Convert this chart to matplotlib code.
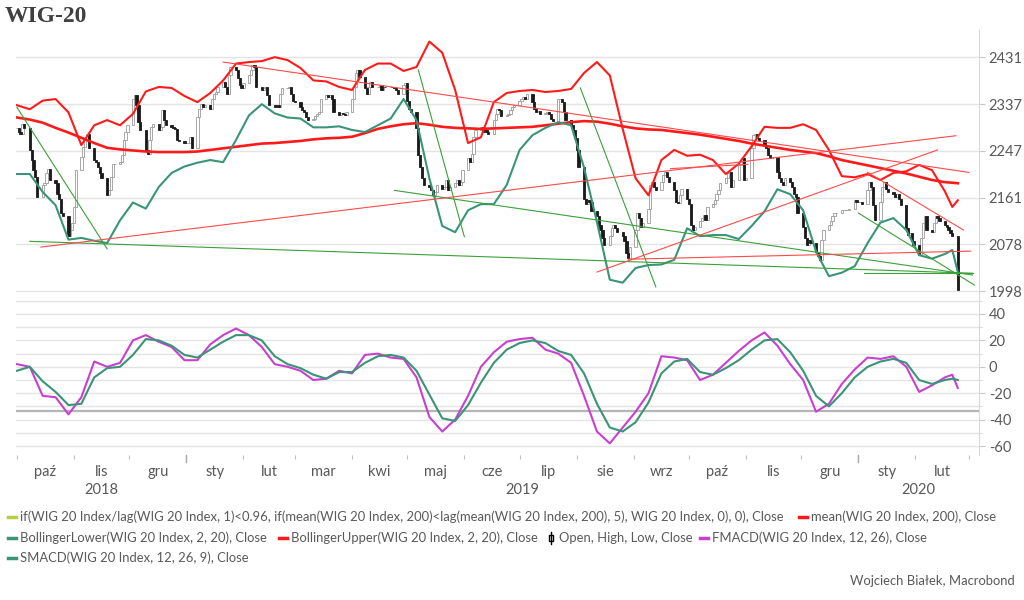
import numpy as np
import pandas as pd
import matplotlib
matplotlib.use('Agg')
import matplotlib.pyplot as plt
import matplotlib.ticker as mticker
import matplotlib.transforms as mtransforms
from matplotlib.lines import Line2D
from matplotlib.patches import Rectangle

plt.rcParams['font.family'] = ['Lato', 'DejaVu Sans']
plt.rcParams['axes.unicode_minus'] = False

# WIG 20 daily closes, one list per month (trading days)
close_by_month = {
    '2018-10': [2290, 2284, 2280, 2299, 2290, 2249, 2230, 2211, 2199, 2162, 2184, 2187,
                2205, 2214, 2193, 2187, 2168, 2159, 2133, 2127, 2092, 2103, 2115],
    '2018-11': [2144, 2211, 2236, 2255, 2268, 2280, 2252, 2230, 2227, 2217, 2205, 2196,
                2165, 2174, 2199, 2223, 2223, 2227, 2239, 2268, 2284, 2296],
    '2018-12': [2348, 2355, 2335, 2303, 2287, 2249, 2242, 2268, 2293, 2299, 2287, 2293,
                2325, 2306, 2296, 2293, 2290, 2288, 2268, 2265, 2262],
    '2019-01': [2262, 2262, 2274, 2252, 2312, 2328, 2338, 2331, 2335, 2328, 2348, 2358,
                2361, 2371, 2381, 2371, 2358, 2395, 2411, 2405, 2388, 2374, 2368],
    '2019-02': [2378, 2395, 2405, 2415, 2411, 2371, 2364, 2368, 2371, 2355, 2335, 2331,
                2335, 2331, 2358, 2368, 2368, 2371, 2358, 2344],
    '2019-03': [2341, 2331, 2326, 2322, 2312, 2306, 2309, 2313, 2317, 2322, 2348, 2355,
                2351, 2355, 2348, 2322, 2315, 2320, 2318, 2315, 2322],
    '2019-04': [2348, 2371, 2398, 2405, 2391, 2368, 2358, 2371, 2381, 2371, 2371, 2374,
                2364, 2371, 2370, 2371, 2370, 2368, 2364, 2358, 2374, 2378],
    '2019-05': [2344, 2328, 2322, 2290, 2239, 2217, 2196, 2184, 2180, 2174, 2165, 2171,
                2184, 2177, 2180, 2193, 2174, 2180, 2187, 2193, 2184, 2190, 2211],
    '2019-06': [2233, 2227, 2242, 2274, 2287, 2293, 2284, 2287, 2284, 2280, 2306, 2318,
                2328, 2325, 2313, 2315, 2318, 2326, 2331, 2335],
    '2019-07': [2344, 2348, 2351, 2348, 2358, 2341, 2328, 2322, 2324, 2317, 2320, 2322,
                2318, 2309, 2304, 2348, 2348, 2341, 2322, 2306, 2296, 2287, 2271],
    '2019-08': [2249, 2217, 2159, 2150, 2156, 2153, 2136, 2127, 2112, 2103, 2089, 2077,
                2092, 2106, 2112, 2106, 2100, 2092, 2083, 2063, 2054, 2074],
    '2019-09': [2103, 2133, 2124, 2109, 2115, 2141, 2184, 2190, 2180, 2174, 2190, 2202,
                2208, 2199, 2190, 2174, 2153, 2151, 2165, 2177, 2159],
    '2019-10': [2150, 2112, 2103, 2109, 2118, 2124, 2130, 2121, 2144, 2150, 2156, 2168,
                2174, 2187, 2196, 2205, 2208, 2180, 2193, 2220, 2227, 2233, 2193],
    '2019-11': [2196, 2252, 2277, 2279, 2271, 2268, 2258, 2252, 2239, 2233, 2236, 2208,
                2196, 2190, 2184, 2196, 2190, 2180, 2168, 2162, 2133],
    '2019-12': [2109, 2089, 2077, 2086, 2080, 2065, 2057, 2051, 2086, 2103, 2112, 2118,
                2127, 2133, 2133, 2138, 2138, 2138, 2138, 2141, 2156, 2153],
    '2020-01': [2153, 2153, 2150, 2174, 2190, 2180, 2147, 2121, 2153, 2180, 2190, 2177,
                2171, 2168, 2162, 2168, 2159, 2147, 2106, 2094, 2097, 2083, 2077],
    '2020-02': [2060, 2089, 2115, 2127, 2103, 2100, 2115, 2127, 2124, 2118, 2112, 2109,
                2103, 2097, 2092, 2000],
}

# weekly samples of the indicator lines
ind_dates = list(pd.date_range('2018-10-01', '2020-02-17', freq='7D').strftime('%Y-%m-%d')) \
    + ['2020-02-21', '2020-02-24']
mean200 = [2311, 2307, 2301, 2291, 2282, 2272, 2262, 2253, 2250, 2248,
           2246, 2245, 2245, 2245, 2246, 2249, 2252, 2255, 2258, 2261,
           2262, 2264, 2266, 2269, 2271, 2272, 2274, 2281, 2289, 2294,
           2298, 2300, 2297, 2293, 2291, 2290, 2289, 2290, 2291, 2292,
           2293, 2296, 2299, 2302, 2304, 2303, 2299, 2294, 2290, 2288,
           2287, 2284, 2281, 2278, 2274, 2270, 2266, 2261, 2257, 2253,
           2249, 2246, 2243, 2237, 2230, 2225, 2220, 2215, 2210, 2205,
           2199, 2193, 2189, 2188, 2187]
boll_upper = [2335, 2327, 2344, 2347, 2321, 2258, 2296, 2306, 2296, 2318,
              2362, 2371, 2369, 2353, 2341, 2359, 2384, 2418, 2421, 2423,
              2431, 2425, 2409, 2384, 2382, 2371, 2365, 2405, 2418, 2418,
              2403, 2411, 2463, 2440, 2365, 2262, 2273, 2341, 2359, 2363,
              2365, 2361, 2363, 2367, 2399, 2421, 2394, 2289, 2196, 2165,
              2230, 2249, 2238, 2240, 2230, 2204, 2223, 2256, 2293, 2291,
              2291, 2298, 2287, 2249, 2200, 2198, 2204, 2193, 2206, 2209,
              2221, 2211, 2172, 2144, 2156]
boll_lower = [2204, 2204, 2171, 2147, 2086, 2089, 2084, 2080, 2120, 2152,
              2141, 2180, 2206, 2218, 2225, 2230, 2226, 2268, 2315, 2337,
              2319, 2311, 2309, 2292, 2292, 2294, 2287, 2283, 2296, 2309,
              2347, 2306, 2196, 2110, 2099, 2138, 2149, 2149, 2184, 2249,
              2277, 2291, 2302, 2296, 2216, 2117, 2017, 2012, 2037, 2042,
              2043, 2051, 2106, 2092, 2094, 2094, 2087, 2110, 2136, 2176,
              2167, 2138, 2065, 2023, 2029, 2040, 2080, 2116, 2124, 2103,
              2059, 2053, 2061, 2068, 2030]
fmacd = [2, 0, -22, -23, -36, -23, 4, 0, 3, 20,
         24, 19, 15, 5, 5, 17, 24, 29, 24, 15,
         2, 0, -3, -10, -9, -3, -5, 9, 10, 7,
         6, -8, -38, -49, -40, -22, 0, 11, 19, 21,
         22, 13, 10, 3, -22, -49, -58, -46, -34, -20,
         8, 7, 5, -10, -6, 3, 12, 20, 26, 16,
         2, -10, -34, -28, -13, -2, 7, 6, 8, 0,
         -19, -14, -8, -6, -16]
smacd = [-3, 0, -11, -19, -29, -28, -8, -1, 0, 9,
         21, 20, 16, 9, 7, 13, 19, 24, 24, 20,
         8, 2, -1, -6, -9, -4, -4, 3, 8, 9,
         7, -3, -21, -39, -41, -29, -12, 3, 13, 18,
         20, 18, 12, 9, -5, -28, -46, -49, -42, -27,
         -5, 4, 6, -4, -6, -1, 5, 13, 20, 21,
         11, -3, -22, -30, -20, -8, 0, 4, 6, 3,
         -10, -13, -10, -9, -10]

# hand-drawn trend lines: start date, start value, end date, end value
green_trends = [
    ('2018-10-01', 2331, '2018-11-19', 2070),
    ('2018-10-08', 2083, '2020-03-03', 2028),
    ('2019-05-07', 2405, '2019-06-01', 2091),
    ('2019-04-24', 2174, '2020-03-03', 2025),
    ('2019-08-03', 2369, '2019-09-13', 2005),
    ('2020-01-01', 2133, '2020-03-04', 2008),
    ('2020-01-04', 2028, '2020-03-03', 2028),
]
red_trends = [
    ('2019-01-21', 2421, '2020-03-01', 2207),
    ('2018-10-14', 2073, '2020-02-23', 2276),
    ('2019-09-21', 2214, '2019-11-02', 2222),
    ('2019-08-12', 2030, '2020-02-13', 2249),
    ('2019-08-29', 2052, '2020-03-02', 2066),
    ('2020-01-06', 2207, '2020-02-27', 2103),
]

price_ticks = [1998, 2078, 2161, 2247, 2337, 2431]
macd_ticks = [-60, -40, -20, 0, 20, 40]
macd_minor = [-50, -30, -10, 10, 30, 50]
macd_threshold = -33.5
month_names = ['sty', 'lut', 'mar', 'kwi', 'maj', 'cze',
               'lip', 'sie', 'wrz', 'paź', 'lis', 'gru']

RED = '#ff1a1a'
TEAL = '#3a9478'
MAGENTA = '#c93fd0'
GRID = '#e4e4e4'
TXT = '#595959'

# candles
dates, closes = [], []
for m, vals in close_by_month.items():
    dates.extend(pd.bdate_range(m + '-01', periods=len(vals)))
    closes.extend(vals)
dates = pd.DatetimeIndex(dates)
closes = np.array(closes, dtype=float)
opens = np.r_[closes[0], closes[:-1]]  # open taken as previous close
up = closes >= opens
idates = pd.to_datetime(ind_dates)

fig = plt.figure(figsize=(10.24, 6.0), dpi=100)
W, H = 1024, 600
ax1 = fig.add_axes([16 / W, 1 - 300 / H, 963 / W, 270 / H])
ax2 = fig.add_axes([16 / W, 1 - 455 / H, 963 / W, 155 / H], sharex=ax1)

x0 = pd.Timestamp('2018-09-30 12:00')
x1 = x0 + pd.Timedelta(days=523)

# --- price panel
ax1.set_yscale('log')
ax1.bar(dates[up], (closes - opens)[up], bottom=opens[up], width=1.25,
        facecolor='white', edgecolor='#9a9a9a', linewidth=0.6, zorder=2)
ax1.bar(dates[~up], (closes - opens)[~up], bottom=opens[~up], width=1.25,
        facecolor='#1a1a1a', edgecolor='#1a1a1a', linewidth=0.6, zorder=2)

for d0, v0, d1, v1 in green_trends:
    ax1.plot(pd.to_datetime([d0, d1]), [v0, v1], color='#3aa03a', lw=0.8, zorder=4)
for d0, v0, d1, v1 in red_trends:
    ax1.plot(pd.to_datetime([d0, d1]), [v0, v1], color='#ff4a4a', lw=0.8, zorder=4)

ax1.plot(idates, mean200, color=RED, lw=1.9, zorder=3)
ax1.plot(idates, boll_upper, color=RED, lw=1.5, zorder=3)
ax1.plot(idates, boll_lower, color=TEAL, lw=1.5, zorder=3)

ax1.set_ylim(1983, 2487)
ax1.yaxis.set_major_locator(mticker.FixedLocator(price_ticks))
ax1.yaxis.set_major_formatter(mticker.FixedFormatter([str(v) for v in price_ticks]))
ax1.yaxis.set_minor_locator(mticker.NullLocator())
ax1.yaxis.tick_right()
ax1.tick_params(axis='y', which='major', labelsize=10.5, labelcolor=TXT,
                length=4, color='#c8c8c8', pad=3)
ax1.tick_params(axis='x', which='both', bottom=False, labelbottom=False)
ax1.grid(axis='y', color=GRID, lw=1)
ax1.set_axisbelow(True)
for s in ['top', 'left', 'bottom']:
    ax1.spines[s].set_visible(False)
ax1.spines['right'].set_color('#d9d9d9')
ax1.set_xlim(x0, x1)

# --- MACD panel
ax2.plot(idates, fmacd, color=MAGENTA, lw=1.5, zorder=3)
ax2.plot(idates, smacd, color=TEAL, lw=1.5, zorder=3)
ax2.axhline(macd_threshold, color='#b5b5b5', lw=1.6, zorder=2)
ax2.set_ylim(-66.8, 50.6)
ax2.yaxis.set_major_locator(mticker.FixedLocator(macd_ticks))
ax2.yaxis.set_minor_locator(mticker.FixedLocator(macd_minor))
ax2.yaxis.tick_right()
ax2.tick_params(axis='y', which='major', labelsize=10.5, labelcolor=TXT,
                length=4, color='#c8c8c8', pad=3)
ax2.tick_params(axis='y', which='minor', length=2, color='#d0d0d0')
ax2.grid(axis='y', which='both', color=GRID, lw=1)
ax2.set_axisbelow(True)
for s in ['top', 'left', 'bottom']:
    ax2.spines[s].set_visible(False)
ax2.spines['right'].set_color('#d9d9d9')

month_starts = pd.date_range('2018-10-01', '2020-03-01', freq='MS')
ax2.xaxis.set_major_locator(mticker.FixedLocator(matplotlib.dates.date2num(month_starts)))
ax2.tick_params(axis='x', which='major', length=3, color='#bfbfbf', labelbottom=False)
ax2.set_xlim(x0, x1)

trans = mtransforms.blended_transform_factory(ax2.transData, ax2.transAxes)
for a, b in zip(month_starts[:-1], month_starts[1:]):
    ax2.text(a + (b - a) / 2, -0.11, month_names[a.month - 1], transform=trans,
             ha='center', va='center', fontsize=10.5, color=TXT)
for yr in [2018, 2019, 2020]:
    a = max(pd.Timestamp(f'{yr}-01-01'), x0)
    b = min(pd.Timestamp(f'{yr + 1}-01-01'), x1)
    ax2.text(a + (b - a) / 2, -0.225, str(yr), transform=trans,
             ha='center', va='center', fontsize=10.5, color=TXT)
    if yr > 2018:
        ax2.plot([pd.Timestamp(f'{yr}-01-01')] * 2, [0, -0.045], transform=trans,
                 color='#a8a8a8', lw=1, clip_on=False)

# --- title, legend, credit
fig.text(5 / W, 1 - 17 / H, 'WIG-20', fontsize=17, fontweight='bold',
         family='Liberation Serif', color='#404040', va='center', ha='left')


def fx(x):
    return x / W


def fy(y):
    return 1 - y / H


LEG_FS = 9.4
legend_items = [
    (8, 517, '#b7d03c', 'if(WIG 20 Index/lag(WIG 20 Index, 1)<0.96, if(mean(WIG 20 Index, 200)<lag(mean(WIG 20 Index, 200), 5), WIG 20 Index, 0), 0), Close'),
    (799, 517, RED, 'mean(WIG 20 Index, 200), Close'),
    (8, 538, TEAL, 'BollingerLower(WIG 20 Index, 2, 20), Close'),
    (279, 538, RED, 'BollingerUpper(WIG 20 Index, 2, 20), Close'),
    (700, 538, MAGENTA, 'FMACD(WIG 20 Index, 12, 26), Close'),
    (8, 558, TEAL, 'SMACD(WIG 20 Index, 12, 26, 9), Close'),
]
for x, y, c, label in legend_items:
    fig.add_artist(Line2D([fx(x), fx(x + 8)], [fy(y), fy(y)], color=c, lw=2.5,
                          transform=fig.transFigure))
    fig.text(fx(x + 12), fy(y), label, fontsize=LEG_FS, color=TXT, va='center', ha='left')

# candle icon for the OHLC entry
fig.add_artist(Line2D([fx(551), fx(551)], [fy(532), fy(544)], color='black', lw=1,
                      transform=fig.transFigure))
fig.add_artist(Rectangle((fx(549.3), fy(541)), 3.4 / W, 6 / H, facecolor='white',
                         edgecolor='black', lw=1, transform=fig.transFigure))
fig.text(fx(559), fy(538), 'Open, High, Low, Close', fontsize=LEG_FS, color=TXT,
         va='center', ha='left')

fig.text(fx(1015), fy(581), 'Wojciech Białek, Macrobond', fontsize=LEG_FS, color=TXT,
         va='center', ha='right')

fig.savefig('out.png', dpi=100)
